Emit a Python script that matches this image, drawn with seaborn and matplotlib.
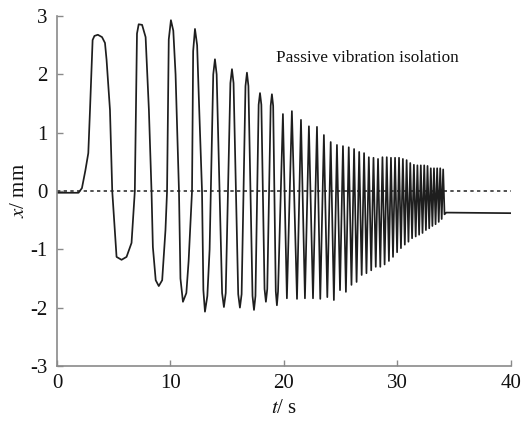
import numpy as np
import pandas as pd
import matplotlib
matplotlib.use("Agg")
import matplotlib.pyplot as plt
import seaborn as sns

# ---- data ----
# start-up and first broad cycles (explicit shape points)
t_early = [0.0, 1.9, 2.2, 2.5, 2.76, 2.91, 3.14, 3.3, 3.6, 3.97, 4.23, 4.37, 4.67, 4.87,
           5.1, 5.25, 5.69, 6.13, 6.57, 6.86, 7.05, 7.2, 7.5, 7.81, 8.1, 8.33, 8.45, 8.7,
           8.97, 9.27, 9.56, 9.7, 9.85, 10.04, 10.25, 10.45, 10.75, 10.88, 11.1, 11.4,
           11.6, 11.9, 12.0, 12.16, 12.35, 12.5, 12.78, 12.9, 13.04, 13.25, 13.45]
x_early = [-0.03, -0.03, 0.05, 0.35, 0.65, 1.39, 2.59, 2.66, 2.68, 2.64, 2.54, 2.25, 1.39, 0.0,
           -0.67, -1.13, -1.18, -1.13, -0.89, 0.0, 2.70, 2.86, 2.85, 2.64, 1.39, 0.0, -0.96, -1.53,
           -1.63, -1.53, -0.67, 0.0, 2.6, 2.93, 2.75, 2.0, 0.0, -1.5, -1.90, -1.75,
           -1.2, 0.0, 2.4, 2.78, 2.5, 1.6, 0.0, -1.7, -2.07, -1.8, -1.0]

# later peaks and troughs of the sweep
peak_t = [13.92, 15.42, 16.74, 17.89, 18.94, 19.91, 20.70, 21.50, 22.20, 22.91, 23.52, 24.12,
          24.67, 25.20, 25.71, 26.18, 26.63, 27.06, 27.48, 27.89, 28.29, 28.68, 29.06, 29.43,
          29.79, 30.14, 30.48, 30.81, 31.13, 31.45, 31.76, 32.06, 32.36, 32.65, 32.94, 33.22,
          33.50, 33.77, 34.03]
peak_x = [2.26, 2.09, 2.03, 1.68, 1.66, 1.32, 1.37, 1.22, 1.11, 1.10, 0.96, 0.84,
          0.79, 0.77, 0.75, 0.72, 0.67, 0.65, 0.58, 0.57, 0.55, 0.58, 0.58, 0.57,
          0.57, 0.57, 0.55, 0.53, 0.48, 0.45, 0.44, 0.44, 0.44, 0.43, 0.39, 0.39,
          0.39, 0.39, 0.37]
trough_t = [14.71, 16.12, 17.36, 18.41, 19.38, 20.26, 21.15, 21.85, 22.56, 23.2, 23.82, 24.4,
            24.94, 25.46, 25.95, 26.4, 26.85, 27.27, 27.69, 28.09, 28.49, 28.87, 29.25, 29.61,
            29.97, 30.31, 30.65, 30.97, 31.29, 31.61, 31.91, 32.21, 32.51, 32.8, 33.08, 33.36,
            33.64, 33.9]
trough_x = [-1.99, -2.00, -2.04, -1.90, -1.96, -1.84, -1.85, -1.84, -1.84, -1.85, -1.82, -1.87,
            -1.70, -1.73, -1.61, -1.56, -1.44, -1.41, -1.36, -1.30, -1.30, -1.26, -1.20, -1.13,
            -1.05, -0.98, -0.92, -0.87, -0.81, -0.78, -0.75, -0.72, -0.67, -0.64, -0.60, -0.57,
            -0.53, -0.48]

# rounded shoulders of the mid-sweep peaks/troughs
shoulder_t = [13.77, 14.07, 14.55, 14.87, 15.28, 15.56, 15.97, 16.27, 16.61, 16.87,
              17.23, 17.49, 17.77, 18.01, 18.29, 18.53, 18.83, 19.05, 19.28, 19.48]
shoulder_x = [2.0, 2.0, -1.75, -1.75, 1.85, 1.85, -1.77, -1.77, 1.8, 1.8,
              -1.8, -1.8, 1.48, 1.48, -1.68, -1.68, 1.46, 1.46, -1.72, -1.72]

# settling after the sweep
t_end = [34.15, 34.3, 40.0]
x_end = [-0.40, -0.37, -0.38]

x_ticks = [0, 10, 20, 30, 40]
y_ticks = [-3, -2, -1, 0, 1, 2, 3]
annotation = "Passive vibration isolation"

# ---- build series ----
df = pd.concat([
    pd.DataFrame({"t": t_early, "x": x_early}),
    pd.DataFrame({"t": peak_t, "x": peak_x}),
    pd.DataFrame({"t": trough_t, "x": trough_x}),
    pd.DataFrame({"t": shoulder_t, "x": shoulder_x}),
    pd.DataFrame({"t": t_end, "x": x_end}),
]).sort_values("t").reset_index(drop=True)

sns.set_theme(style="ticks")
plt.rcParams["font.family"] = ["Liberation Serif", "DejaVu Serif"]
plt.rcParams["mathtext.fontset"] = "stix"

fig = plt.figure(figsize=(5.3, 4.24), dpi=100)
ax = fig.add_axes([0.1075, 0.137, 0.8565, 0.825])

ax.axhline(0, color="#333333", linewidth=1.2, linestyle=(0, (2, 2)), zorder=1)
sns.lineplot(data=df, x="t", y="x", ax=ax, estimator=None, sort=False,
             color="#1e1e1e", linewidth=1.25, zorder=2)

ax.set_xlim(0, 40)
ax.set_ylim(-3, 3)
ax.set_xticks(x_ticks)
ax.set_yticks(y_ticks)
ax.set_xticklabels([str(v) for v in x_ticks])
ax.set_yticklabels([str(v) for v in y_ticks])

for s in ["top", "right"]:
    ax.spines[s].set_visible(False)
for s in ["left", "bottom"]:
    ax.spines[s].set_color("#8a8a8a")
    ax.spines[s].set_linewidth(1.2)

ax.tick_params(axis="both", direction="in", length=4, width=1, color="#8a8a8a",
               labelsize=15, labelcolor="#111111")
ax.tick_params(axis="x", pad=6)
ax.tick_params(axis="y", pad=7)

ax.set_xlabel(r"$t$/ s", fontsize=15, color="#111111", labelpad=4)
ax.set_ylabel(r"$x$/ mm", fontsize=15, color="#111111")
ax.yaxis.set_label_coords(-0.062, 0.5)

ax.text(19.3, 2.28, annotation, fontsize=12.4, color="#111111", va="center", ha="left")

fig.savefig("out.png", dpi=100)
